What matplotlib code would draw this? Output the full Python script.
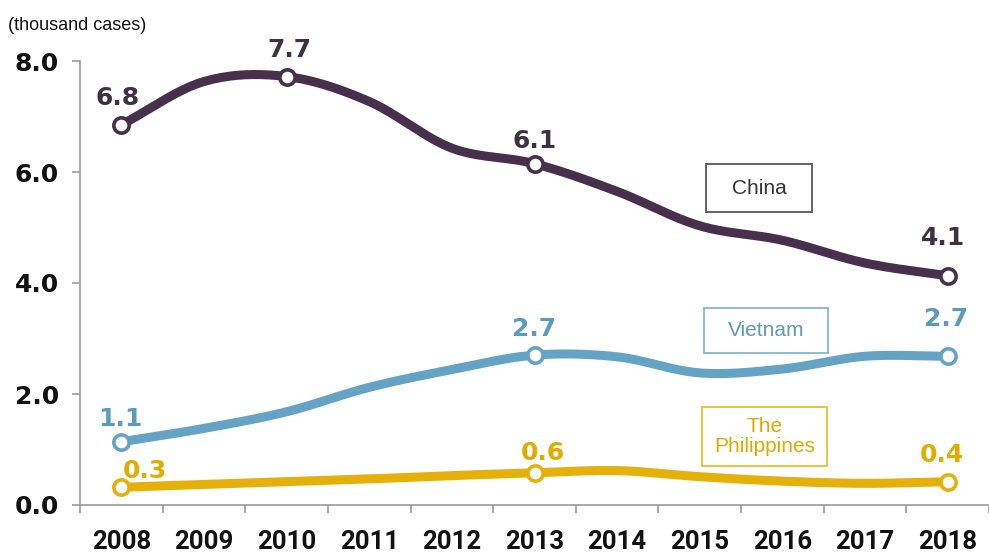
import numpy as np
import matplotlib
matplotlib.use('Agg')
import matplotlib.pyplot as plt
from matplotlib.patches import Rectangle

years = ['2008', '2009', '2010', '2011', '2012', '2013', '2014', '2015', '2016', '2017', '2018']
china = [6.85, 7.63, 7.72, 7.27, 6.43, 6.15, 5.65, 5.03, 4.77, 4.36, 4.13]
vietnam = [1.14, 1.38, 1.68, 2.12, 2.44, 2.70, 2.67, 2.38, 2.45, 2.68, 2.68]
philippines = [0.32, 0.37, 0.42, 0.47, 0.53, 0.58, 0.62, 0.51, 0.43, 0.39, 0.42]

# points with markers and value labels
china_marks = [0, 2, 5, 10]
china_labels = ['6.8', '7.7', '6.1', '4.1']
vietnam_marks = [0, 5, 10]
vietnam_labels = ['1.1', '2.7', '2.7']
phil_marks = [0, 5, 10]
phil_labels = ['0.3', '0.6', '0.4']

c_china = '#46304b'
c_viet = '#64a3c3'
c_phil = '#e5b00a'


def smooth(y, n=20):
    # catmull-rom curve through the points
    y = np.asarray(y, float)
    p = np.concatenate([[2 * y[0] - y[1]], y, [2 * y[-1] - y[-2]]])
    xs, ys = [], []
    for i in range(len(y) - 1):
        t = np.linspace(0, 1, n, endpoint=False)
        p0, p1, p2, p3 = p[i], p[i + 1], p[i + 2], p[i + 3]
        v = 0.5 * ((2 * p1) + (-p0 + p2) * t + (2 * p0 - 5 * p1 + 4 * p2 - p3) * t ** 2
                   + (-p0 + 3 * p1 - 3 * p2 + p3) * t ** 3)
        xs.append(i + t)
        ys.append(v)
    xs.append([len(y) - 1])
    ys.append([y[-1]])
    return np.concatenate(xs), np.concatenate(ys)


W, H = 989, 558
fig = plt.figure(figsize=(W / 100, H / 100), dpi=100)
ax = fig.add_axes([80 / W, (H - 505) / H, (W - 80) / W, (505 - 61) / H])

x = np.arange(len(years))
series = [
    (china, china_marks, china_labels, c_china, '#3d3340',
     [(-3, 14), (2, 14), (0, 11), (-3, 22)]),
    (vietnam, vietnam_marks, vietnam_labels, c_viet, '#5b9bbd',
     [(-1, 11), (0, 14), (-1, 22)]),
    (philippines, phil_marks, phil_labels, c_phil, '#e0ac00',
     [(17, 7), (6, 9), (-4, 14)]),
]
for vals, marks, labels, col, tcol, offs in series:
    sx, sy = smooth(vals)
    ax.plot(sx, sy, color=col, lw=6.5, solid_capstyle='round', zorder=3)
    mx = [x[i] for i in marks]
    my = [vals[i] for i in marks]
    ax.plot(mx, my, 'o', ms=11, mfc='white', mec=col, mew=2.6, zorder=4)
    for xi, yi, lab, off in zip(mx, my, labels, offs):
        ax.annotate(lab, (xi, yi), xytext=off, textcoords='offset points',
                    ha='center', va='baseline', color=tcol, fontsize=18,
                    fontweight='bold', family='DejaVu Sans')

ax.set_xlim(-0.5, 10.36)
ax.set_ylim(0, 8)
ax.set_yticks([0, 2, 4, 6, 8])
ax.set_yticklabels(['0.0', '2.0', '4.0', '6.0', '8.0'], fontsize=18,
                   fontweight='bold', family='DejaVu Sans', color='#111111')
ax.set_xticks(x)
ax.set_xticklabels(years, fontsize=18.5, fontweight='bold', family='Roboto',
                   color='#111111')
ax.set_xticks(np.arange(-0.5, 11, 1), minor=True)
ax.tick_params(axis='x', which='major', length=0, pad=18)
ax.tick_params(axis='x', which='minor', length=6, width=1.2, color='#999999')
ax.tick_params(axis='y', length=6, width=1.2, color='#999999', pad=9)
for s in ['top', 'right']:
    ax.spines[s].set_visible(False)
for s in ['left', 'bottom']:
    ax.spines[s].set_color('#999999')
    ax.spines[s].set_linewidth(1.2)

fig.text(8 / W, 1 - 30 / H, '(thousand cases)', fontsize=13, family='Liberation Sans',
         color='#111111', va='baseline')


def label_box(x0, y0, x1, y1, text, ec, tc):
    fig.add_artist(Rectangle((x0 / W, 1 - y1 / H), (x1 - x0) / W, (y1 - y0) / H,
                             transform=fig.transFigure, fill=False, ec=ec, lw=1.3))
    fig.text((x0 + x1) / 2 / W, 1 - (y0 + y1) / 2 / H, text, ha='center', va='center',
             fontsize=15, family='Liberation Sans', color=tc, linespacing=1.1)


label_box(706, 164, 812, 212, 'China', '#555555', '#333333')
label_box(704, 308, 828, 353, 'Vietnam', '#86b6cc', '#5f9ab8')
label_box(702, 407, 827, 466, 'The\nPhilippines', '#e8bf30', '#dcaa00')

fig.savefig('out.png', dpi=100)
